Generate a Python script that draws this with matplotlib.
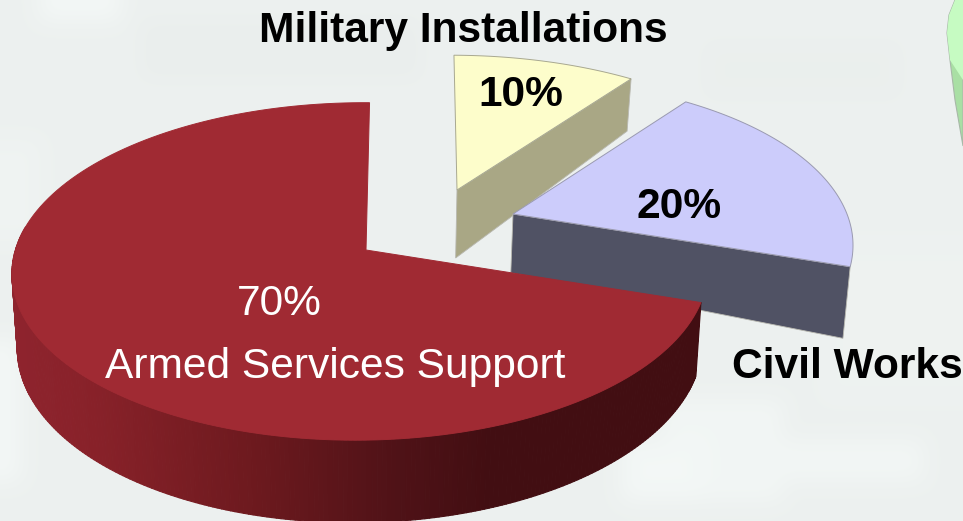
import numpy as np
import matplotlib
matplotlib.use("Agg")
import matplotlib.pyplot as plt
from matplotlib.collections import PolyCollection
from matplotlib.patches import Polygon

plt.rcParams['font.family'] = ['Liberation Sans', 'DejaVu Sans']

W, H = 963, 521

# budget shares, counter-clockwise from 12 o'clock
categories = ["Armed Services Support", "Civil Works", "Military Installations"]
shares = [70, 20, 10]

# slice geometry in pixels: apex, radii, perspective and shear
apex_x = [366, 513, 457]
apex_y = [250, 214, 190]
rad_x = [345, 338, 339]
rad_y = [166, 162, 155]
persp_y = [0.127, 0.20, 0.15]
persp_x = [0.016, 0.012, 0.012]
shear = [4, 4, -3.5]
wall_apex = [72, 59, 68]
wall_rim = [72, 68, 59]

top_colors = ['#a02a33', '#ccccfb', '#fdfdcb']
wall_colors = [None, '#505264', '#a9a785']
edge_colors = ['#a02a33', '#9a9ab0', '#a8a890']

# shading of the red rim from left to right
rim_x = [10, 100, 250, 400, 490, 700]
rim_r = [0.56, 0.53, 0.43, 0.31, 0.26, 0.26]
rim_g = [0.14, 0.13, 0.10, 0.07, 0.055, 0.055]
rim_b = [0.18, 0.16, 0.12, 0.09, 0.07, 0.07]

# outline of the next pie, cut off by the right edge
green_y = [0, 15, 33, 60, 100, 146]
green_x = [955, 949, 947, 950, 955, 963]

# pale blocks of the faded backdrop: x0, x1, y0, y1, grey level
patches = [
    (50, 120, 0, 20, 0.96), (0, 30, 140, 230, 0.945), (0, 20, 350, 470, 0.96),
    (670, 770, 410, 500, 0.955), (620, 700, 440, 500, 0.96), (780, 920, 440, 480, 0.955),
    (830, 963, 250, 400, 0.94), (150, 420, 30, 80, 0.925), (700, 900, 50, 90, 0.928),
]


def project(i, r, t):
    # top face point of slice i at radius r and angle t (radians)
    u, v = r * np.cos(t), r * np.sin(t)
    p = 1 / (1 + persp_y[i] * v + persp_x[i] * u)
    x = apex_x[i] + (rad_x[i] * u + shear[i] * v) * p
    y = apex_y[i] - rad_y[i] * v * p
    return x, y, p


def drop(i, r, t):
    # same point on the bottom face, verticals lean in towards the middle
    x, y, p = project(i, r, t)
    h = (wall_apex[i] + (wall_rim[i] - wall_apex[i]) * r) * p
    return x + (366 - x) * 0.015, y + h


def draw_rim(ax, i, t0, t1, z):
    # curved wall as thin strips shaded across the width
    ts = np.linspace(t0, t1, 240)
    xt, yt, _ = project(i, 1.0, ts)
    xb, yb = drop(i, 1.0, ts)
    quads = [[(xt[k], yt[k]), (xt[k + 1], yt[k + 1]), (xb[k + 1], yb[k + 1]), (xb[k], yb[k])]
             for k in range(len(ts) - 1)]
    mid = (xt[:-1] + xt[1:]) / 2
    cols = np.column_stack([np.interp(mid, rim_x, rim_r), np.interp(mid, rim_x, rim_g),
                            np.interp(mid, rim_x, rim_b)])
    ax.add_collection(PolyCollection(quads, facecolors=cols, edgecolors=cols, linewidths=0.8, zorder=z))


def draw_cut(ax, i, t, z):
    # straight face between apex and rim
    xr, yr, _ = project(i, 1.0, t)
    xd, yd = drop(i, 0.0, t)
    xe, ye = drop(i, 1.0, t)
    ax.add_patch(Polygon([(apex_x[i], apex_y[i]), (xr, yr), (xe, ye), (xd, yd)],
                         fc=wall_colors[i], ec='#b8b8b0', lw=0.6, zorder=z))


def draw_top(ax, i, t0, t1, z):
    x, y, _ = project(i, 1.0, np.linspace(t0, t1, 160))
    pts = np.column_stack([np.r_[apex_x[i], x], np.r_[apex_y[i], y]])
    ax.add_patch(Polygon(pts, fc=top_colors[i], ec=edge_colors[i], lw=0.7, zorder=z))


fig = plt.figure(figsize=(W / 100, H / 100), dpi=100)
ax = fig.add_axes([0, 0, 1, 1])
ax.set_xlim(0, W)
ax.set_ylim(H, 0)
ax.axis('off')

# backdrop at low resolution, smoothed on display
bg = np.full((26, 48), 0.935)
for x0, x1, y0, y1, g in patches:
    bg[int(y0 / 20):int(np.ceil(y1 / 20)), int(x0 / 20):int(np.ceil(x1 / 20))] = g
rgb = np.dstack([bg * 0.993, bg * 1.01, bg * 1.005])
ax.imshow(np.clip(rgb, 0, 1), extent=(0, W, H, 0), interpolation='bicubic', aspect='auto', zorder=0)

# neighbouring pie at the right edge, lit top and darker side
ax.add_patch(Polygon(np.column_stack([green_x + [963, 963], green_y + [146, 0]]),
                     fc='#a9dfa4', ec='#a8b8a8', lw=0.8, zorder=1))
gy = np.array([y for y in green_y if y <= 60] + [80])
gx = np.array([x for x, y in zip(green_x, green_y) if y <= 60] + [963])
ax.add_patch(Polygon(np.column_stack([np.r_[gx, 963], np.r_[gy, 0]]), fc='#c6fbc2', ec='none', zorder=1.5))

# slice angles come straight from the shares
fracs = np.array(shares) / sum(shares)
bounds = np.pi / 2 + 2 * np.pi * np.r_[0, np.cumsum(fracs)]
full = 2 * np.pi

draw_cut(ax, 2, bounds[2] - full, 2)
draw_top(ax, 2, bounds[2] - full, bounds[3] - full, 3)
draw_cut(ax, 1, bounds[1] - full, 4)
draw_top(ax, 1, bounds[1] - full, bounds[2] - full, 5)
draw_rim(ax, 0, np.radians(172), bounds[1], 6)
draw_top(ax, 0, bounds[0], bounds[1], 7)

fs = 30.6
ax.text(259, 42, categories[2], fontsize=fs, fontweight='bold', ha='left', va='baseline', zorder=9)
ax.text(478, 106, f"{shares[2]}%", fontsize=fs, fontweight='bold', ha='left', va='baseline', zorder=9)
ax.text(637, 218, f"{shares[1]}%", fontsize=fs, fontweight='bold', ha='left', va='baseline', zorder=9)
ax.text(732, 378, categories[1], fontsize=fs, fontweight='bold', ha='left', va='baseline', zorder=9)
ax.text(237, 315, f"{shares[0]}%", fontsize=fs, color='white', ha='left', va='baseline', zorder=9)
ax.text(105, 378, categories[0], fontsize=fs, color='white', ha='left', va='baseline', zorder=9)

fig.savefig("out.png", dpi=100)
